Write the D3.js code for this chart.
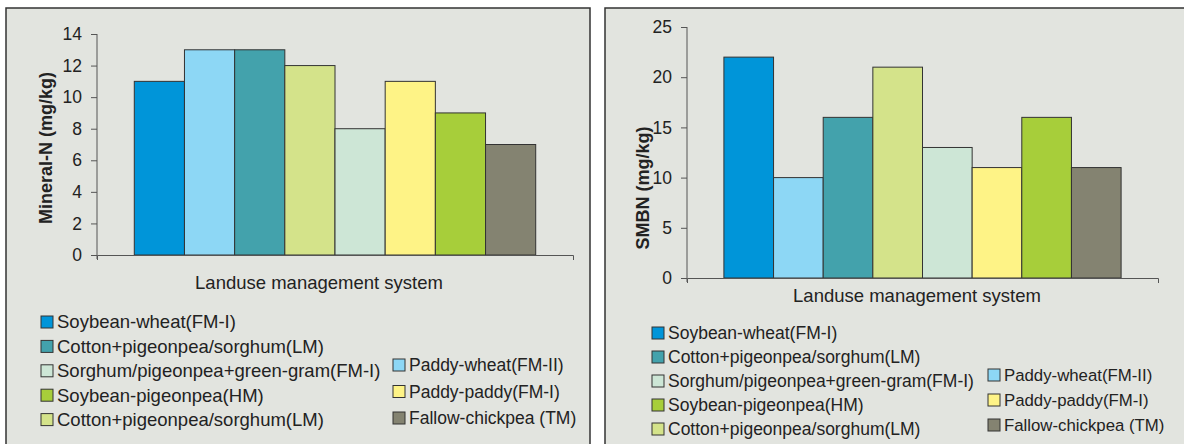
<!DOCTYPE html>
<meta charset="utf-8">
<style>
body { margin: 0; background: #fff; }
text { font-family: "Liberation Sans", Arial, sans-serif; fill: #222; }
.axis path, .axis line { stroke: #555; }
.axis text { font-size: 17.5px; fill: #222; }
</style>
<svg width="1184" height="444"></svg>
<script src="https://d3js.org/d3.v7.min.js"></script>
<script>

// landuse systems, in bar order
var series = ["Soybean-wheat(FM-I)", "Paddy-wheat(FM-II)", "Cotton+pigeonpea/sorghum(LM)",
              "Cotton+pigeonpea/sorghum(LM)", "Sorghum/pigeonpea+green-gram(FM-I)",
              "Paddy-paddy(FM-I)", "Soybean-pigeonpea(HM)", "Fallow-chickpea (TM)"];
var colors = ["#0095d9", "#8dd7f5", "#43a2ac", "#d4e38a", "#cde6d6", "#fef386", "#a7ce3a", "#848371"];

var mineralN = [11, 13, 13, 12, 8, 11, 9, 7];
var smbn = [22, 10, 16, 21, 13, 11, 16, 11];

var mineralTicks = [0, 2, 4, 6, 8, 10, 12, 14];
var smbnTicks = [0, 5, 10, 15, 20, 25];

// legend: two columns, indexes into series
var legendCol1 = [0, 2, 4, 6, 3];
var legendCol2 = [1, 5, 7];

var category = "Landuse management system";

var svg = d3.select("svg");

function panel(opt) {
  var g = svg.append("g");

  g.append("rect")
      .attr("x", opt.box[0]).attr("y", opt.box[1])
      .attr("width", opt.box[2]).attr("height", opt.box[3])
      .attr("fill", "#e2e4df")
      .attr("stroke", "#333")
      .attr("stroke-width", 1.5);

  var y = d3.scaleLinear().domain([0, d3.max(opt.ticks)]).range([opt.bottom, opt.top]);
  var x0 = d3.scaleBand().domain([category]).range([opt.left, opt.right]).padding(0.085);
  var x1 = d3.scaleBand().domain(d3.range(series.length)).range([0, x0.bandwidth()]);

  g.selectAll(".bar")
    .data(opt.values)
    .enter().append("rect")
      .attr("class", "bar")
      .attr("x", function(d, i) { return x0(category) + x1(i); })
      .attr("y", function(d) { return y(d); })
      .attr("width", x1.bandwidth())
      .attr("height", function(d) { return y(0) - y(d); })
      .attr("fill", function(d, i) { return colors[i]; })
      .attr("stroke", "#333")
      .attr("stroke-width", 1);

  g.append("g")
      .attr("class", "axis")
      .attr("transform", "translate(" + opt.left + ",0)")
      .call(d3.axisLeft(y).tickValues(opt.ticks).tickSize(6).tickSizeOuter(0).tickPadding(9))
      .call(function(a) { a.select(".domain").attr("d", "M0," + (opt.bottom + 4) + "V" + opt.top); });

  g.append("g")
      .attr("class", "axis")
      .attr("transform", "translate(0," + opt.bottom + ")")
      .call(d3.axisBottom(x0).tickSize(0).tickSizeOuter(5))
      .call(function(a) { a.selectAll(".tick").remove(); });

  g.append("text")
      .attr("x", opt.xTitle[0]).attr("y", opt.xTitle[1])
      .attr("text-anchor", "middle")
      .style("font-size", "18.5px")
      .text(category);

  g.append("text")
      .attr("transform", "translate(" + opt.yTitle[0] + "," + opt.yTitle[1] + ") rotate(-90)")
      .attr("text-anchor", "middle")
      .style("font-size", "18px")
      .style("font-weight", "bold")
      .text(opt.yLabel);

  function legend(items, lx, ly, step, size) {
    var row = g.selectAll(null)
      .data(items)
      .enter().append("g")
        .attr("transform", function(d, i) { return "translate(" + lx + "," + (ly + i * step) + ")"; });
    row.append("rect")
        .attr("x", 0).attr("y", -6)
        .attr("width", 12).attr("height", 12)
        .attr("fill", function(d) { return colors[d]; })
        .attr("stroke", "#333");
    row.append("text")
        .attr("x", 16).attr("dy", "0.35em")
        .style("font-size", size + "px")
        .text(function(d) { return series[d]; });
  }
  legend(legendCol1, opt.leg1[0], opt.leg1[1], opt.leg1[2], opt.leg1[3]);
  legend(legendCol2, opt.leg2[0], opt.leg2[1], opt.leg2[2], opt.leg2[3]);
}

panel({
  box: [6, 8, 584, 460],
  values: mineralN, ticks: mineralTicks,
  left: 97, right: 573, top: 34, bottom: 255,
  xTitle: [319, 289], yTitle: [52, 148], yLabel: "Mineral-N (mg/kg)",
  leg1: [41, 322, 24.4, 18.5], leg2: [393, 365, 26.5, 17.5]
});

panel({
  box: [605, 8, 620, 460],
  values: smbn, ticks: smbnTicks,
  left: 687, right: 1158, top: 27, bottom: 278,
  xTitle: [917, 302], yTitle: [649, 188], yLabel: "SMBN (mg/kg)",
  leg1: [652, 333, 24, 17.5], leg2: [988, 375, 25, 16.8]
});

</script>
